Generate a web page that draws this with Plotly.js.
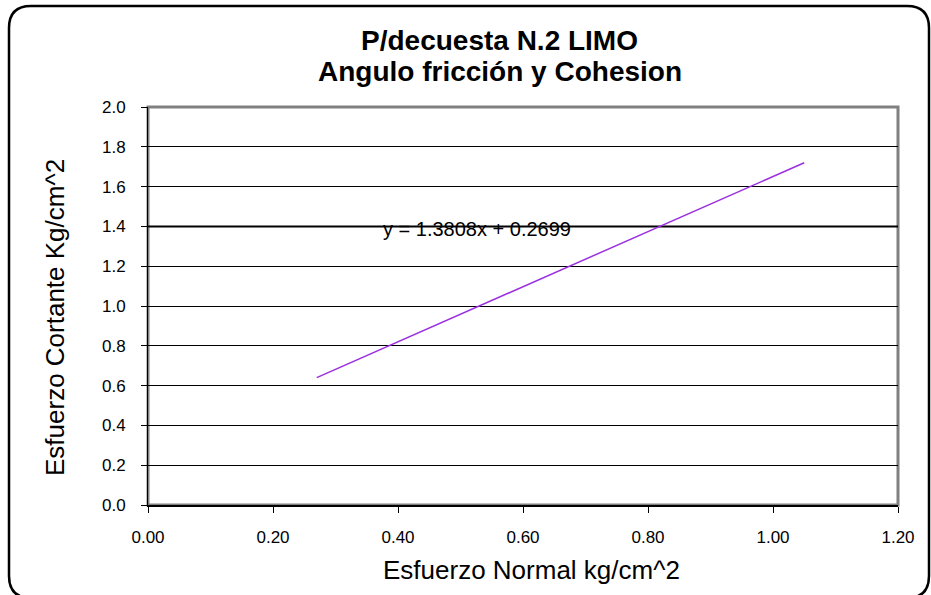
<!DOCTYPE html>
<html>
<head>
<meta charset="utf-8">
<script src="https://cdn.plot.ly/plotly-3.0.1.min.js"></script>
<style>html,body{margin:0;padding:0;background:#fff}#chart{width:931px;height:595px}</style>
</head>
<body>
<div id="chart"></div>
<script>
// Data
const trendX = [0.27, 1.05];
const trendY = [0.64, 1.72];
const equationText = 'y = 1.3808x + 0.2699';
const titleLines = ['P/decuesta N.2 LIMO', 'Angulo fricción y Cohesion'];
const xTitle = 'Esfuerzo Normal kg/cm^2';
const yTitle = 'Esfuerzo Cortante Kg/cm^2';
const xTicks = [0, 0.2, 0.4, 0.6, 0.8, 1.0, 1.2];
const yTicks = [0, 0.2, 0.4, 0.6, 0.8, 1.0, 1.2, 1.4, 1.6, 1.8, 2.0];

const FONT = 'Liberation Sans, Arial, sans-serif';
const L = 148, R = 898, T = 107, B = 505, W = 931, H = 595;
const px = v => (v - L) / (R - L);
const py = v => (B - v) / (B - T);

// outer rounded frame (paper coordinates derived from pixel edges)
const x0 = px(9), x1 = px(929), y0 = py(598), y1 = py(6);
const rx = 22 / (R - L), ry = 22 / (B - T);
const framePath = `M ${x0} ${y0 + ry} L ${x0} ${y1 - ry} Q ${x0} ${y1} ${x0 + rx} ${y1} ` +
  `L ${x1 - rx} ${y1} Q ${x1} ${y1} ${x1} ${y1 - ry} L ${x1} ${y0 + ry} Q ${x1} ${y0} ${x1 - rx} ${y0} ` +
  `L ${x0 + rx} ${y0} Q ${x0} ${y0} ${x0} ${y0 + ry} Z`;

const data = [{
  x: trendX, y: trendY, type: 'scatter', mode: 'lines',
  line: {color: '#9B30E0', width: 1.5}, hoverinfo: 'skip', showlegend: false
}];

const txt = (text, x, y, size, extra) => Object.assign({
  text, xref: 'paper', yref: 'paper', x: px(x), y: py(y),
  xanchor: 'center', yanchor: 'middle', showarrow: false,
  font: {family: FONT, size, color: '#000'}
}, extra || {});

const layout = {
  width: W, height: H,
  margin: {l: L, r: W - R, t: T, b: H - B},
  paper_bgcolor: '#fff', plot_bgcolor: '#fff',
  font: {family: FONT, color: '#000'},
  showlegend: false,
  xaxis: {
    range: [0, 1.2], tickvals: xTicks, tickformat: '.2f',
    showgrid: false, zeroline: false,
    showline: true, linecolor: '#000', linewidth: 2,
    ticks: 'outside', ticklen: 6, tickcolor: '#000', tickwidth: 1,
    ticklabelstandoff: 10,
    tickfont: {family: FONT, size: 17, color: '#000'},
    automargin: false, fixedrange: true
  },
  yaxis: {
    range: [0, 2], tickvals: yTicks, tickformat: '.1f',
    showgrid: true, gridcolor: '#000', gridwidth: 1, zeroline: false,
    showline: true, linecolor: '#000', linewidth: 1,
    ticks: 'outside', ticklen: 6, tickcolor: '#000', tickwidth: 1,
    ticklabelstandoff: 12,
    tickfont: {family: FONT, size: 17, color: '#000'},
    automargin: false, fixedrange: true
  },
  shapes: [
    {type: 'rect', xref: 'paper', yref: 'paper', x0: 0, x1: 1, y0: 0, y1: 1,
     line: {color: '#808080', width: 3}, layer: 'below'},
    {type: 'line', xref: 'paper', yref: 'y', x0: 0, x1: 1, y0: 1.4, y1: 1.4,
     line: {color: '#000', width: 2}, layer: 'below'},
    {type: 'path', xref: 'paper', yref: 'paper', path: framePath,
     line: {color: '#000', width: 2.5}, layer: 'above'}
  ],
  annotations: [
    txt('<b>' + titleLines[0] + '</b>', 499, 40, 28),
    txt('<b>' + titleLines[1] + '</b>', 500, 71, 28),
    txt(xTitle, 531, 570, 26),
    txt(yTitle, 55, 318, 26, {textangle: -90}),
    {
      text: equationText, xref: 'x', yref: 'y',
      x: (381 - L) / ((R - L) / 1.2), y: (B - 229) / ((B - T) / 2),
      xanchor: 'left', yanchor: 'middle', showarrow: false,
      font: {family: FONT, size: 20, color: '#000'}
    }
  ]
};

Plotly.newPlot('chart', data, layout, {displayModeBar: false, staticPlot: true});
</script>
</body>
</html>
